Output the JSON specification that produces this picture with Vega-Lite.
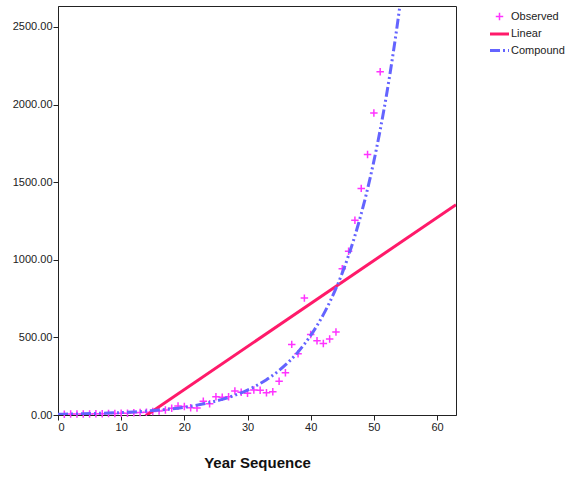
{
  "$schema": "https://vega.github.io/schema/vega-lite/v6.json",
  "autosize": {"type": "none"},
  "width": 398,
  "height": 409,
  "padding": {"left": 58, "top": 6, "right": 116, "bottom": 62},
  "background": "white",
  "config": {
    "view": {"stroke": "#222222", "strokeWidth": 1},
    "font": "Liberation Sans",
    "axis": {
      "grid": false,
      "domainColor": "#222222",
      "domainWidth": 1,
      "tickColor": "#222222",
      "tickSize": 5,
      "labelFont": "Liberation Sans",
      "labelFontSize": 11,
      "labelColor": "#222222",
      "titleFont": "Liberation Sans"
    }
  },
  "datasets": {
    "observed": [
      {"x": 1, "y": 5, "series": "Observed"},
      {"x": 2, "y": 6, "series": "Observed"},
      {"x": 3, "y": 6, "series": "Observed"},
      {"x": 4, "y": 7, "series": "Observed"},
      {"x": 5, "y": 7, "series": "Observed"},
      {"x": 6, "y": 8, "series": "Observed"},
      {"x": 7, "y": 8, "series": "Observed"},
      {"x": 8, "y": 9, "series": "Observed"},
      {"x": 9, "y": 10, "series": "Observed"},
      {"x": 10, "y": 11, "series": "Observed"},
      {"x": 11, "y": 12, "series": "Observed"},
      {"x": 12, "y": 14, "series": "Observed"},
      {"x": 13, "y": 16, "series": "Observed"},
      {"x": 14, "y": 18, "series": "Observed"},
      {"x": 15, "y": 22, "series": "Observed"},
      {"x": 16, "y": 25, "series": "Observed"},
      {"x": 17, "y": 32, "series": "Observed"},
      {"x": 18, "y": 43, "series": "Observed"},
      {"x": 19, "y": 58, "series": "Observed"},
      {"x": 20, "y": 55, "series": "Observed"},
      {"x": 21, "y": 47, "series": "Observed"},
      {"x": 22, "y": 45, "series": "Observed"},
      {"x": 23, "y": 88, "series": "Observed"},
      {"x": 24, "y": 72, "series": "Observed"},
      {"x": 25, "y": 118, "series": "Observed"},
      {"x": 26, "y": 114, "series": "Observed"},
      {"x": 27, "y": 118, "series": "Observed"},
      {"x": 28, "y": 155, "series": "Observed"},
      {"x": 29, "y": 146, "series": "Observed"},
      {"x": 30, "y": 140, "series": "Observed"},
      {"x": 31, "y": 161, "series": "Observed"},
      {"x": 32, "y": 159, "series": "Observed"},
      {"x": 33, "y": 144, "series": "Observed"},
      {"x": 34, "y": 150, "series": "Observed"},
      {"x": 35, "y": 217, "series": "Observed"},
      {"x": 36, "y": 272, "series": "Observed"},
      {"x": 37, "y": 455, "series": "Observed"},
      {"x": 38, "y": 395, "series": "Observed"},
      {"x": 39, "y": 753, "series": "Observed"},
      {"x": 40, "y": 518, "series": "Observed"},
      {"x": 41, "y": 478, "series": "Observed"},
      {"x": 42, "y": 460, "series": "Observed"},
      {"x": 43, "y": 490, "series": "Observed"},
      {"x": 44, "y": 535, "series": "Observed"},
      {"x": 45, "y": 943, "series": "Observed"},
      {"x": 46, "y": 1055, "series": "Observed"},
      {"x": 47, "y": 1255, "series": "Observed"},
      {"x": 48, "y": 1460, "series": "Observed"},
      {"x": 49, "y": 1678, "series": "Observed"},
      {"x": 50, "y": 1945, "series": "Observed"},
      {"x": 51, "y": 2212, "series": "Observed"}
    ],
    "linear": [
      {"x": 0, "y": -390, "series": "Linear"},
      {"x": 63, "y": 1355, "series": "Linear"}
    ],
    "compound": [
      {"x": 0, "y": 5.0, "series": "Compound"},
      {"x": 2, "y": 6.3, "series": "Compound"},
      {"x": 4, "y": 7.9, "series": "Compound"},
      {"x": 6, "y": 9.9, "series": "Compound"},
      {"x": 8, "y": 12.5, "series": "Compound"},
      {"x": 10, "y": 15.8, "series": "Compound"},
      {"x": 12, "y": 19.9, "series": "Compound"},
      {"x": 14, "y": 25.1, "series": "Compound"},
      {"x": 16, "y": 31.7, "series": "Compound"},
      {"x": 18, "y": 39.9, "series": "Compound"},
      {"x": 20, "y": 50.4, "series": "Compound"},
      {"x": 22, "y": 63.5, "series": "Compound"},
      {"x": 24, "y": 80.1, "series": "Compound"},
      {"x": 26, "y": 101.0, "series": "Compound"},
      {"x": 28, "y": 127.4, "series": "Compound"},
      {"x": 30, "y": 160.7, "series": "Compound"},
      {"x": 31, "y": 180.5, "series": "Compound"},
      {"x": 32, "y": 202.7, "series": "Compound"},
      {"x": 33, "y": 227.6, "series": "Compound"},
      {"x": 34, "y": 255.6, "series": "Compound"},
      {"x": 35, "y": 287.0, "series": "Compound"},
      {"x": 36, "y": 322.3, "series": "Compound"},
      {"x": 37, "y": 362.0, "series": "Compound"},
      {"x": 38, "y": 406.5, "series": "Compound"},
      {"x": 39, "y": 456.5, "series": "Compound"},
      {"x": 40, "y": 512.6, "series": "Compound"},
      {"x": 41, "y": 575.7, "series": "Compound"},
      {"x": 42, "y": 646.5, "series": "Compound"},
      {"x": 43, "y": 726.0, "series": "Compound"},
      {"x": 44, "y": 815.3, "series": "Compound"},
      {"x": 45, "y": 915.6, "series": "Compound"},
      {"x": 46, "y": 1028.2, "series": "Compound"},
      {"x": 47, "y": 1154.7, "series": "Compound"},
      {"x": 48, "y": 1296.7, "series": "Compound"},
      {"x": 49, "y": 1456.2, "series": "Compound"},
      {"x": 50, "y": 1635.3, "series": "Compound"},
      {"x": 51, "y": 1836.4, "series": "Compound"},
      {"x": 52, "y": 2062.2, "series": "Compound"},
      {"x": 53, "y": 2315.9, "series": "Compound"},
      {"x": 54, "y": 2600.7, "series": "Compound"},
      {"x": 55, "y": 2920.6, "series": "Compound"},
      {"x": 56, "y": 3279.8, "series": "Compound"}
    ]
  },
  "encoding": {
    "x": {
      "field": "x",
      "type": "quantitative",
      "scale": {"domain": [0, 63], "nice": false, "zero": false},
      "axis": {
        "values": [0, 10, 20, 30, 40, 50, 60],
        "format": "d",
        "title": "Year Sequence",
        "titleFontSize": 15,
        "titleFontWeight": "bold",
        "titleColor": "#111111",
        "labelPadding": 1,
        "titlePadding": 23
      }
    },
    "y": {
      "field": "y",
      "type": "quantitative",
      "scale": {"domain": [0, 2635], "nice": false, "zero": false},
      "axis": {
        "values": [0, 500, 1000, 1500, 2000, 2500],
        "format": ".2f",
        "title": null,
        "labelPadding": 1
      }
    },
    "color": {
      "field": "series",
      "type": "nominal",
      "scale": {
        "domain": ["Observed", "Linear", "Compound"],
        "range": ["#ff33ff", "#ff1a6a", "#6464ff"]
      },
      "legend": {
        "title": null,
        "orient": "none",
        "legendX": 436,
        "legendY": 5,
        "padding": 0,
        "symbolSize": 289,
        "symbolType": "stroke",
        "symbolStrokeWidth": 3,
        "labelOffset": 6,
        "labelFont": "Liberation Sans",
        "labelFontSize": 11,
        "labelColor": "#222222",
        "rowPadding": 3.5,
        "encode": {
          "symbols": {
            "update": {
              "shape": {"signal": "datum.value === 'Observed' ? 'M-1,0H1M0,-1V1' : 'stroke'"},
              "size": {"signal": "datum.value === 'Observed' ? 56 : 361"},
              "strokeWidth": {"signal": "datum.value === 'Observed' ? 1.5 : 3"},
              "strokeDash": {"signal": "datum.value === 'Compound' ? [10, 3, 2, 3, 2, 3] : [1, 0]"},
              "fill": {"value": "transparent"},
              "opacity": {"value": 1}
            }
          }
        }
      }
    }
  },
  "layer": [
    {
      "data": {"name": "observed"},
      "mark": {"type": "point", "shape": "M-1,0H1M0,-1V1", "filled": false, "size": 56, "strokeWidth": 1.5, "opacity": 1}
    },
    {
      "data": {"name": "linear"},
      "mark": {"type": "line", "clip": true, "strokeWidth": 3}
    },
    {
      "data": {"name": "compound"},
      "mark": {"type": "line", "clip": true, "strokeWidth": 3, "strokeDash": [10, 3, 2, 3, 2, 3], "interpolate": "monotone"}
    }
  ]
}
